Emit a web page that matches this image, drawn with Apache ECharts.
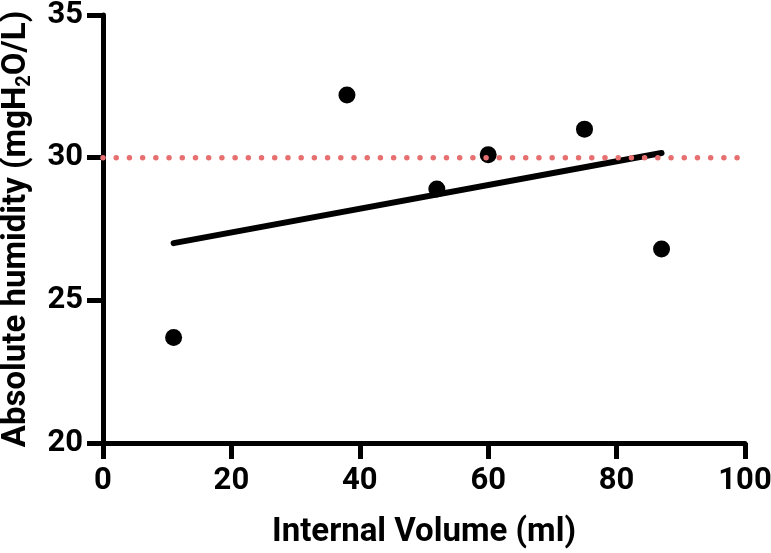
<!DOCTYPE html>
<html>
<head>
<meta charset="utf-8">
<script src="https://cdn.jsdelivr.net/npm/echarts@6/dist/echarts.min.js"></script>
<style>
html,body{margin:0;padding:0;background:#fff;}
#c{width:771px;height:553px;}
</style>
</head>
<body>
<div id="c"></div>
<script>
var volumes = [11, 38, 52, 60, 75, 87];
var humidity = [23.7, 32.2, 28.9, 30.1, 31.0, 26.8];
var xTicks = [0, 20, 40, 60, 80, 100];
var yTicks = [20, 25, 30, 35];
var refLevel = 30;
var refRange = [0, 99];

// least-squares fit over the data points, drawn across the data range
function fitLine(xs, ys) {
  var n = xs.length, mx = 0, my = 0;
  for (var i = 0; i < n; i++) { mx += xs[i]; my += ys[i]; }
  mx /= n; my /= n;
  var sxy = 0, sxx = 0;
  for (var j = 0; j < n; j++) { sxy += (xs[j] - mx) * (ys[j] - my); sxx += (xs[j] - mx) * (xs[j] - mx); }
  var b = sxy / sxx, a = my - b * mx;
  var x0 = Math.min.apply(null, xs), x1 = Math.max.apply(null, xs);
  return [[x0, a + b * x0], [x1, a + b * x1]];
}

var FONT = 'Roboto, "Liberation Sans", sans-serif';

var chart = echarts.init(document.getElementById('c'), null, {renderer: 'canvas'});
chart.setOption({
  animation: false,
  backgroundColor: '#ffffff',
  grid: {left: 103, right: 26, top: 15, bottom: 110, containLabel: false, outerBoundsMode: 'none'},
  xAxis: {
    type: 'value', min: xTicks[0], max: xTicks[xTicks.length - 1], interval: 20,
    name: 'Internal Volume (ml)', nameLocation: 'middle', nameGap: 73,
    nameTextStyle: {fontFamily: FONT, fontWeight: 'bold', fontSize: 33, color: '#000'},
    axisLine: {show: true, lineStyle: {color: '#000', width: 5}},
    axisTick: {show: true, inside: false, length: 16, lineStyle: {color: '#000', width: 5}},
    axisLabel: {margin: 23, fontFamily: FONT, fontWeight: 'bold', fontSize: 31, color: '#000'},
    splitLine: {show: false}
  },
  yAxis: {
    type: 'value', min: yTicks[0], max: yTicks[yTicks.length - 1], interval: 5,
    name: '{t|Absolute humidity (mgH}{s|2}{t|O/L)}', nameLocation: 'middle', nameGap: 68,
    nameTextStyle: {
      fontFamily: FONT, fontWeight: 'bold', fontSize: 33, color: '#000',
      rich: {
        t: {fontFamily: FONT, fontWeight: 'bold', fontSize: 33, color: '#000', lineHeight: 36},
        s: {fontFamily: FONT, fontWeight: 'bold', fontSize: 20, color: '#000', lineHeight: 36, verticalAlign: 'bottom'}
      }
    },
    axisLine: {show: true, lineStyle: {color: '#000', width: 5}},
    axisTick: {show: true, inside: false, length: 16, lineStyle: {color: '#000', width: 5}},
    axisLabel: {margin: 20, fontFamily: FONT, fontWeight: 'bold', fontSize: 31, color: '#000'},
    splitLine: {show: false}
  },
  series: [
    {
      type: 'line', data: fitLine(volumes, humidity), symbol: 'none', z: 2,
      lineStyle: {color: '#000', width: 6, cap: 'round'}
    },
    {
      type: 'scatter', data: volumes.map(function (v, i) { return [v, humidity[i]]; }),
      symbol: 'circle', symbolSize: 17, z: 3,
      itemStyle: {color: '#000', opacity: 1}
    },
    {
      type: 'line', data: refRange.map(function (x) { return [x, refLevel]; }), symbol: 'none', z: 4,
      lineStyle: {color: '#e76f6f', width: 5.5, type: [0.01, 13.2], cap: 'round'}
    }
  ]
});
</script>
</body>
</html>
